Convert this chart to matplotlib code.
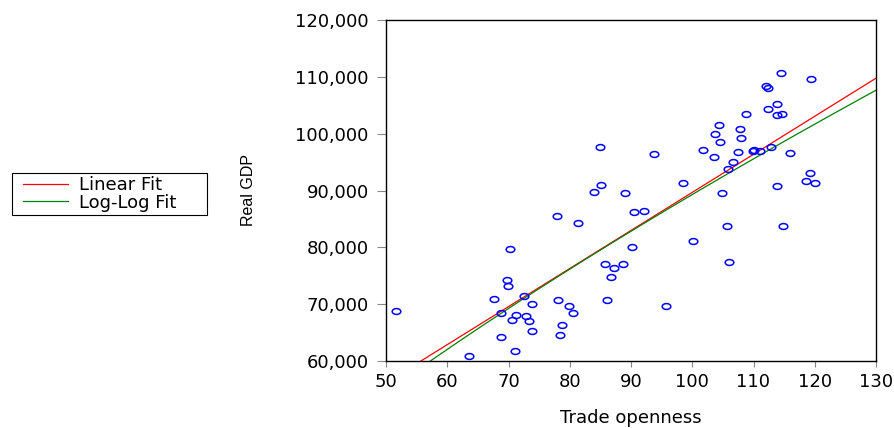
import numpy as np
import matplotlib
matplotlib.use("Agg")
import matplotlib.pyplot as plt
from matplotlib.path import Path
from matplotlib.patches import Rectangle

plt.rcParams['font.family'] = ['DejaVu Sans']

trade_openness = [51.6, 63.6, 67.6, 68.7, 68.8, 69.7, 69.9, 70.2, 70.5, 71.1,
                  71.3, 72.6, 72.9, 73.3, 73.9, 73.9, 77.9, 78.1, 78.4, 78.8,
                  79.9, 80.6, 81.4, 83.9, 84.9, 85.1, 85.8, 86.0, 86.8, 87.2,
                  88.7, 89.0, 90.1, 90.5, 92.2, 93.8, 95.7, 98.5, 100.1, 101.7,
                  103.5, 103.7, 104.3, 104.6, 104.9, 105.6, 105.8, 106.0, 106.6, 107.5,
                  107.8, 108.0, 108.7, 109.9, 110.1, 111.0, 112.1, 112.3, 112.4, 112.9,
                  113.8, 113.8, 113.9, 114.5, 114.7, 114.8, 116.0, 118.5, 119.2, 119.4,
                  120.1]
real_gdp = [68770, 60830, 70940, 68470, 64180, 74240, 73240, 79760, 67240, 61710,
            68060, 71350, 67990, 67000, 70060, 65350, 85590, 70710, 64530, 66350,
            69650, 68470, 84350, 89760, 97650, 90940, 77000, 70650, 74770, 76410,
            77120, 89590, 80000, 86180, 86350, 96470, 69590, 91360, 81060, 97180,
            95820, 99940, 101530, 98470, 89530, 83700, 93700, 77410, 94940, 96820,
            100880, 99230, 103530, 96880, 97180, 96880, 108470, 108060, 104350, 97650,
            105180, 103350, 90760, 110590, 103470, 83700, 96530, 91710, 93120, 109590,
            91240]

# fitted coefficients
linear_coef = [669.7, 22697.0]        # y = a*x + b
loglog_coef = [0.7126, 8.118]         # ln y = b*ln x + a

x_ticks = [50, 60, 70, 80, 90, 100, 110, 120, 130]
y_ticks = [60000, 70000, 80000, 90000, 100000, 110000, 120000]

W, H = 895, 428
fig = plt.figure(figsize=(W/100, H/100), dpi=100)
ax = fig.add_axes([386/W, 1-361/H, (876-386)/W, (361-20)/H])

t = np.linspace(0.0, 2*np.pi, 40)
ell = Path(np.column_stack([np.cos(t), 0.68*np.sin(t)]), closed=True)

xs = np.linspace(45, 135, 200)
ax.plot(xs, np.polyval(linear_coef, xs), color='#ff0000', lw=0.9, label='Linear Fit')
ax.plot(xs, np.exp(np.polyval(loglog_coef, np.log(xs))), color='#008000', lw=0.9,
        label='Log-Log Fit')
ax.plot(trade_openness, real_gdp, linestyle='none', marker=ell, markersize=6.2,
        markerfacecolor='none', markeredgecolor='#0000ff', markeredgewidth=1.1)

ax.set_xlim(50, 130)
ax.set_ylim(60000, 120000)
ax.set_xticks(x_ticks)
ax.set_yticks(y_ticks)
ax.set_yticklabels([f"{v:,}" for v in y_ticks])
ax.tick_params(axis='both', labelsize=13, color='#888888', direction='out')
ax.tick_params(axis='x', length=4.2, pad=4.5)
ax.tick_params(axis='y', length=6.5, pad=6)
for s in ax.spines.values():
    s.set_linewidth(1.0)
    s.set_color('black')

ax.set_xlabel('Trade openness', fontsize=13)
ax.xaxis.set_label_coords(0.5, -0.141)
ax.set_ylabel('Real GDP', fontsize=11.5, family=['Liberation Sans', 'DejaVu Sans'])
ax.yaxis.set_label_coords(-0.265, 0.5)

handles, labels = ax.get_legend_handles_labels()
leg = fig.legend(handles[:2], labels[:2], loc='upper left',
                 bbox_to_anchor=(23/W, 1-176.5/H), bbox_transform=fig.transFigure,
                 frameon=False, fontsize=13,
                 handlelength=2.5, handletextpad=0.6, borderpad=0.0, labelspacing=-0.05,
                 borderaxespad=0.0)
fig.add_artist(Rectangle((12/W, 1-215/H), 195/W, 42/H, transform=fig.transFigure,
                         fill=False, edgecolor='black', linewidth=0.8))

fig.savefig('out.png', dpi=100)
